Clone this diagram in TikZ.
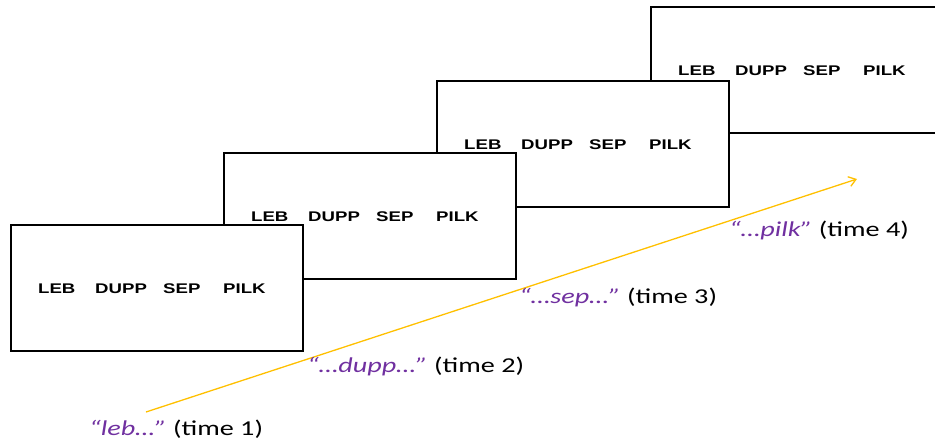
\documentclass[tikz,border=0pt]{standalone}
\usepackage{fontspec}
\usetikzlibrary{arrows.meta}
\newfontfamily\wordfont[FakeStretch=1.33]{Liberation Sans}
\newfontfamily\labfont[FakeStretch=1.33]{Carlito}
\definecolor{arrowgold}{HTML}{FFC000}
\definecolor{speechpurple}{HTML}{7030A0}
\begin{document}
\begin{tikzpicture}[x=1pt,y=-1pt,
  screen/.style={draw=black, line width=2pt, fill=white, minimum width=292pt, minimum height=126pt, anchor=north west, inner sep=0pt, outer sep=0pt},
  word/.style={anchor=base west, inner sep=0pt, font=\wordfont\bfseries\fontsize{14}{16}\selectfont},
  timelabel/.style={anchor=base west, inner sep=0pt, font=\labfont\fontsize{21.2}{25}\selectfont},
  timeline/.style={draw=arrowgold, line width=1.3pt, -{Straight Barb[length=7pt,width=10pt]}}]
\useasboundingbox (0,0) rectangle (935,440);
\foreach \i/\x/\y in {4/651/7, 3/437/81, 2/224/153, 1/11/225} {
  \node[screen] (s\i) at (\x,\y) {};
  \node[word] (s\i-leb) at (\x+27,\y+68) {LEB};
  \node[word] (s\i-dupp) at (\x+84,\y+68) {DUPP};
  \node[word] (s\i-sep) at (\x+152,\y+68) {SEP};
  \node[word] (s\i-pilk) at (\x+212,\y+68) {PILK};
}
\coordinate (a0) at (146,412);
\coordinate (a1) at (857,179);
\draw[timeline] (a0) -- (a1);
\node[timelabel] (t1) at (89,435) {\textcolor{speechpurple}{\itshape “leb…”} (time 1)};
\node[timelabel] (t2) at (307,372) {\textcolor{speechpurple}{\itshape “…dupp…”} (time 2)};
\node[timelabel] (t3) at (519,303) {\textcolor{speechpurple}{\itshape “…sep…”} (time 3)};
\node[timelabel] (t4) at (729,236) {\textcolor{speechpurple}{\itshape “…pilk”} (time 4)};
\end{tikzpicture}
\end{document}
